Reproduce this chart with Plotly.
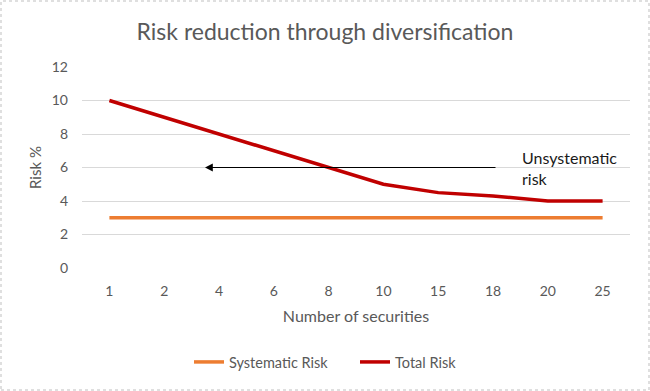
import plotly.graph_objects as go

securities = ["1", "2", "4", "6", "8", "10", "15", "18", "20", "25"]
systematic_risk = [3, 3, 3, 3, 3, 3, 3, 3, 3, 3]
total_risk = [10, 9, 8, 7, 6, 5, 4.5, 4.3, 4, 4]
y_ticks = [0, 2, 4, 6, 8, 10, 12]

W, H = 650, 391
ml, mr, mt, mb = 82, 20, 67, 123
pw, ph = W - ml - mr, H - mt - mb

font = "Lato, 'Open Sans', sans-serif"
grey = "#595959"

fig = go.Figure()
fig.add_trace(go.Scatter(x=securities, y=systematic_risk, mode="lines",
                         name="Systematic Risk",
                         line=dict(color="#ED7D31", width=3.5)))
fig.add_trace(go.Scatter(x=securities, y=total_risk, mode="lines",
                         name="Total Risk",
                         line=dict(color="#C00000", width=3.5)))

fig.update_layout(
    width=W, height=H,
    margin=dict(l=ml, r=mr, t=mt, b=mb, autoexpand=False),
    paper_bgcolor="white", plot_bgcolor="white",
    font=dict(family=font, color=grey, size=14),
    title=dict(text="Risk reduction through diversification",
               x=0.5, xanchor="center", y=1 - 32 / H, yanchor="middle",
               font=dict(size=23, color=grey, family=font)),
    xaxis=dict(type="category", range=[-0.5, len(securities) - 0.5],
               showgrid=False, zeroline=False,
               showline=False, ticks="", ticklabelstandoff=13,
               title=dict(text="Number of securities", font=dict(size=16, color=grey), standoff=12),
               tickfont=dict(size=14, color=grey)),
    yaxis=dict(range=[0, 12], tickvals=y_ticks, showgrid=True,
               gridcolor="#D9D9D9", gridwidth=1, zeroline=False,
               showline=False, ticks="", ticklabelstandoff=13,
               title=dict(text="Risk %", font=dict(size=15, color=grey), standoff=6),
               tickfont=dict(size=14, color=grey)),
    legend=dict(orientation="h", x=(189 - ml) / pw, xanchor="left",
                y=-(362 - 268) / ph, yanchor="middle",
                entrywidth=121, entrywidthmode="pixels",
                font=dict(size=14.5, color=grey)),
    showlegend=True,
)

# arrow showing unsystematic risk
fig.add_annotation(x=(205 - ml) / pw, y=6, xref="paper", yref="y",
                   ax=497 - 205, ay=0, axref="pixel", ayref="pixel",
                   showarrow=True, arrowhead=2, arrowsize=1.3, arrowwidth=1.2,
                   arrowcolor="#000000", text="")
fig.add_annotation(x=(520 - ml) / pw, y=(268 - 168) / ph * 12, xref="paper", yref="y",
                   text="Unsystematic<br>risk", showarrow=False,
                   xanchor="left", yanchor="middle", align="left",
                   font=dict(size=16, color="#1a1a1a", family=font))

# outer border
fig.add_shape(type="rect", xref="paper", yref="paper",
              x0=-(ml - 1) / pw, x1=1 + (mr - 1) / pw,
              y0=-(mb - 1) / ph, y1=1 + (mt - 1) / ph,
              line=dict(color="#BFBFBF", width=1, dash="dot"))

fig.write_html("out.html", config={"displayModeBar": False},
               post_script="document.body.style.margin='0';document.body.style.overflow='hidden';")
